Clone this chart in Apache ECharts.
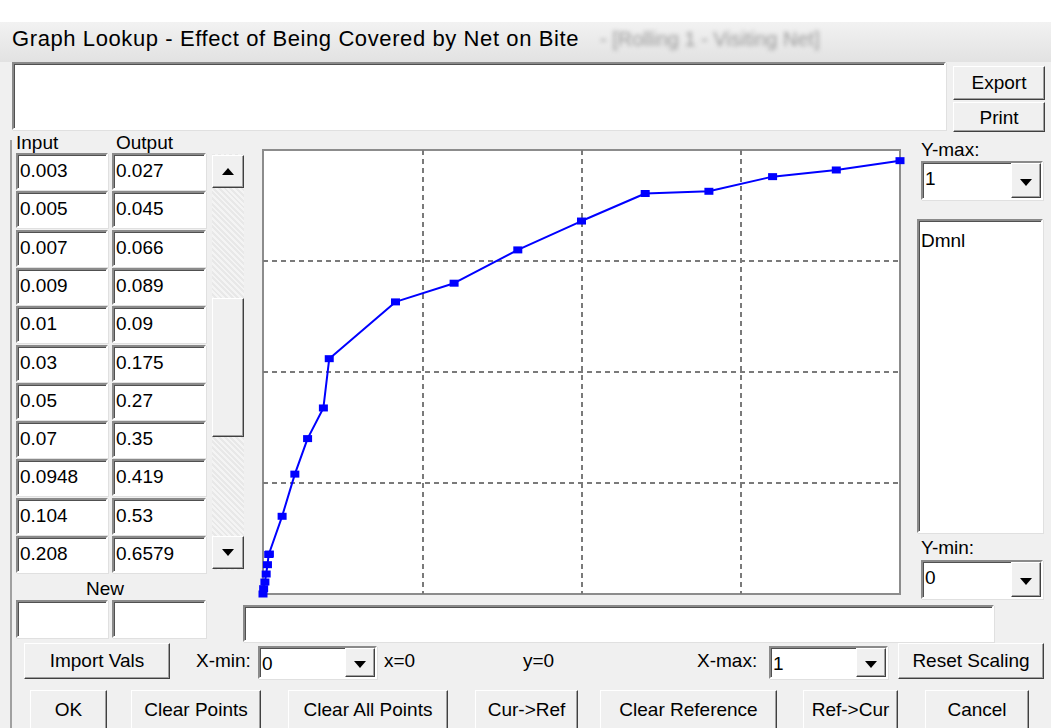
<!DOCTYPE html>
<html>
<head>
<meta charset="utf-8">
<script src="https://cdn.jsdelivr.net/npm/echarts@6/dist/echarts.min.js"></script>
<style>
body{margin:0;width:1051px;height:728px;background:#f0f0f0;font-family:"Liberation Sans",Arial,sans-serif;overflow:hidden;position:relative;color:#000}
.sunk{position:absolute;background:#fff;border:2px solid;border-color:#8a8a8a #fff #fff #8a8a8a;box-shadow:inset 1px 1px 0 #505050,1px 1px 0 #e0e0e0;box-sizing:border-box;font-size:19px;padding:5px 0 0 2px;white-space:nowrap}
.btn{position:absolute;background:#f0f0f0;border:1px solid;border-color:#fff #404040 #404040 #fff;box-shadow:inset -1px -1px 0 #a0a0a0;box-sizing:border-box;font-size:19px;text-align:center;white-space:nowrap}
.lbl{position:absolute;font-size:19px;white-space:nowrap}
.arrow{position:absolute;width:0;height:0;border-left:6px solid transparent;border-right:6px solid transparent}
</style>
</head>
<body>
<div style="position:absolute;left:0;top:0;width:1051px;height:22px;background:#fff"></div>
<div style="position:absolute;left:0;top:22px;width:1051px;height:40px;background:linear-gradient(#f2f2f2,#e2e2e2)"></div>
<div class="lbl" style="left:600px;top:28px;color:#9a9a9a;filter:blur(2px);font-size:20px">- [Rolling 1 - Visiting Net]</div>
<div class="lbl" style="left:12px;top:26px;font-size:22px;letter-spacing:0.6px">Graph Lookup - Effect of Being Covered by Net on Bite</div>
<div style="position:absolute;left:10px;top:140px;width:2px;height:588px;background:#a0a0a0"></div>
<div id="ui"></div>
<div id="chart" style="position:absolute;left:258px;top:145px;width:650px;height:455px"></div>
<script>
// lookup points (input -> output)
const inputs = [0, 0.001, 0.003, 0.005, 0.007, 0.009, 0.01, 0.03, 0.05, 0.07, 0.0948, 0.104, 0.208, 0.3, 0.4, 0.5, 0.6, 0.7, 0.8, 0.9, 1];
const outputs = [0, 0.012, 0.027, 0.045, 0.066, 0.089, 0.09, 0.175, 0.27, 0.35, 0.419, 0.53, 0.6579, 0.70, 0.775, 0.84, 0.902, 0.907, 0.94, 0.955, 0.976];
const firstRow = 2;
const visibleRows = 11;
const xTicks = [0, 0.25, 0.5, 0.75, 1];
const yTicks = [0, 0.25, 0.5, 0.75, 1];

const ui = document.getElementById('ui');
function add(cls, style, text) {
  const d = document.createElement('div');
  d.className = cls;
  d.setAttribute('style', style);
  if (text !== undefined) d.textContent = text;
  ui.appendChild(d);
  return d;
}
function dropdown(x, y, w, h, val) {
  add('sunk', `left:${x}px;top:${y}px;width:${w}px;height:${h}px`, val);
  const b = add('btn', `left:${x + w - 32}px;top:${y + 2}px;width:30px;height:${h - 4}px`);
  b.innerHTML = '<div class="arrow" style="left:8px;top:' + Math.round((h - 4) / 2 - 3) + 'px;border-top:7px solid #000"></div>';
}

// top area
add('sunk', 'left:12px;top:62px;width:934px;height:68px', '');
add('btn', 'left:953px;top:66px;width:92px;height:34px;line-height:32px', 'Export');
add('btn', 'left:953px;top:102px;width:92px;height:30px;line-height:30px', 'Print');

// table
add('lbl', 'left:16px;top:132px', 'Input');
add('lbl', 'left:116px;top:132px', 'Output');
for (let i = 0; i < visibleRows; i++) {
  const y = 153 + i * 38.3;
  add('sunk', `left:16px;top:${y}px;width:92px;height:37px`, String(inputs[firstRow + i]));
  add('sunk', `left:112px;top:${y}px;width:94px;height:37px`, String(outputs[firstRow + i]));
}
// scrollbar
add('', 'position:absolute;left:212px;top:154px;width:32px;height:416px;background:repeating-linear-gradient(45deg,#f4f4f4 0 2px,#e8e8e8 2px 4px)');
let b = add('btn', 'left:212px;top:155px;width:32px;height:33px');
b.innerHTML = '<div class="arrow" style="left:9px;top:12px;border-bottom:7px solid #000"></div>';
add('btn', 'left:212px;top:298px;width:32px;height:139px');
b = add('btn', 'left:212px;top:536px;width:32px;height:33px');
b.innerHTML = '<div class="arrow" style="left:9px;top:12px;border-top:7px solid #000"></div>';
add('lbl', 'left:86px;top:578px', 'New');
add('sunk', 'left:16px;top:600px;width:92px;height:38px', '');
add('sunk', 'left:112px;top:600px;width:94px;height:38px', '');
add('sunk', 'left:243px;top:605px;width:751px;height:37px', '');

// right panel
add('lbl', 'left:921px;top:139px', 'Y-max:');
dropdown(921, 161, 122, 39, '1');
add('sunk', 'left:917px;top:219px;width:126px;height:314px;padding-top:9px', 'Dmnl');
add('lbl', 'left:921px;top:537px', 'Y-min:');
dropdown(921, 560, 122, 39, '0');

// bottom rows
add('btn', 'left:24px;top:643px;width:146px;height:36px;line-height:34px', 'Import Vals');
add('lbl', 'left:196px;top:650px', 'X-min:');
dropdown(258, 646, 119, 33, '0');
add('lbl', 'left:384px;top:650px', 'x=0');
add('lbl', 'left:523px;top:650px', 'y=0');
add('lbl', 'left:697px;top:650px', 'X-max:');
dropdown(769, 646, 119, 33, '1');
add('btn', 'left:898px;top:643px;width:146px;height:36px;line-height:34px', 'Reset Scaling');
const buttons = [['OK', 30, 77], ['Clear Points', 131, 130], ['Clear All Points', 288, 160], ['Cur->Ref', 475, 103], ['Clear Reference', 600, 177], ['Ref->Cur', 803, 95], ['Cancel', 925, 104]];
buttons.forEach(([t, x, w]) => add('btn', `left:${x}px;top:690px;width:${w}px;height:40px;line-height:38px`, t));

// chart
const chart = echarts.init(document.getElementById('chart'));
const gridLine = { show: true, showMinLine: false, showMaxLine: false, lineStyle: { type: [5, 4], color: '#7a7a7a', width: 2 } };
chart.setOption({
  animation: false,
  grid: { left: 5, top: 5, width: 637, height: 444, show: true, backgroundColor: '#fff', borderColor: '#8c8c8c', borderWidth: 2 },
  xAxis: {
    type: 'value', min: xTicks[0], max: xTicks[xTicks.length - 1], interval: xTicks[1] - xTicks[0],
    axisLabel: { show: false }, axisTick: { show: false }, axisLine: { show: false }, splitLine: gridLine
  },
  yAxis: {
    type: 'value', min: yTicks[0], max: yTicks[yTicks.length - 1], interval: yTicks[1] - yTicks[0],
    axisLabel: { show: false }, axisTick: { show: false }, axisLine: { show: false }, splitLine: gridLine
  },
  series: [{
    type: 'line',
    data: inputs.map((x, i) => [x, outputs[i]]),
    symbol: 'rect',
    symbolSize: [9, 7],
    showAllSymbol: true,
    itemStyle: { color: '#0000ff' },
    lineStyle: { color: '#0000ff', width: 2 }
  }]
});
</script>
</body>
</html>
